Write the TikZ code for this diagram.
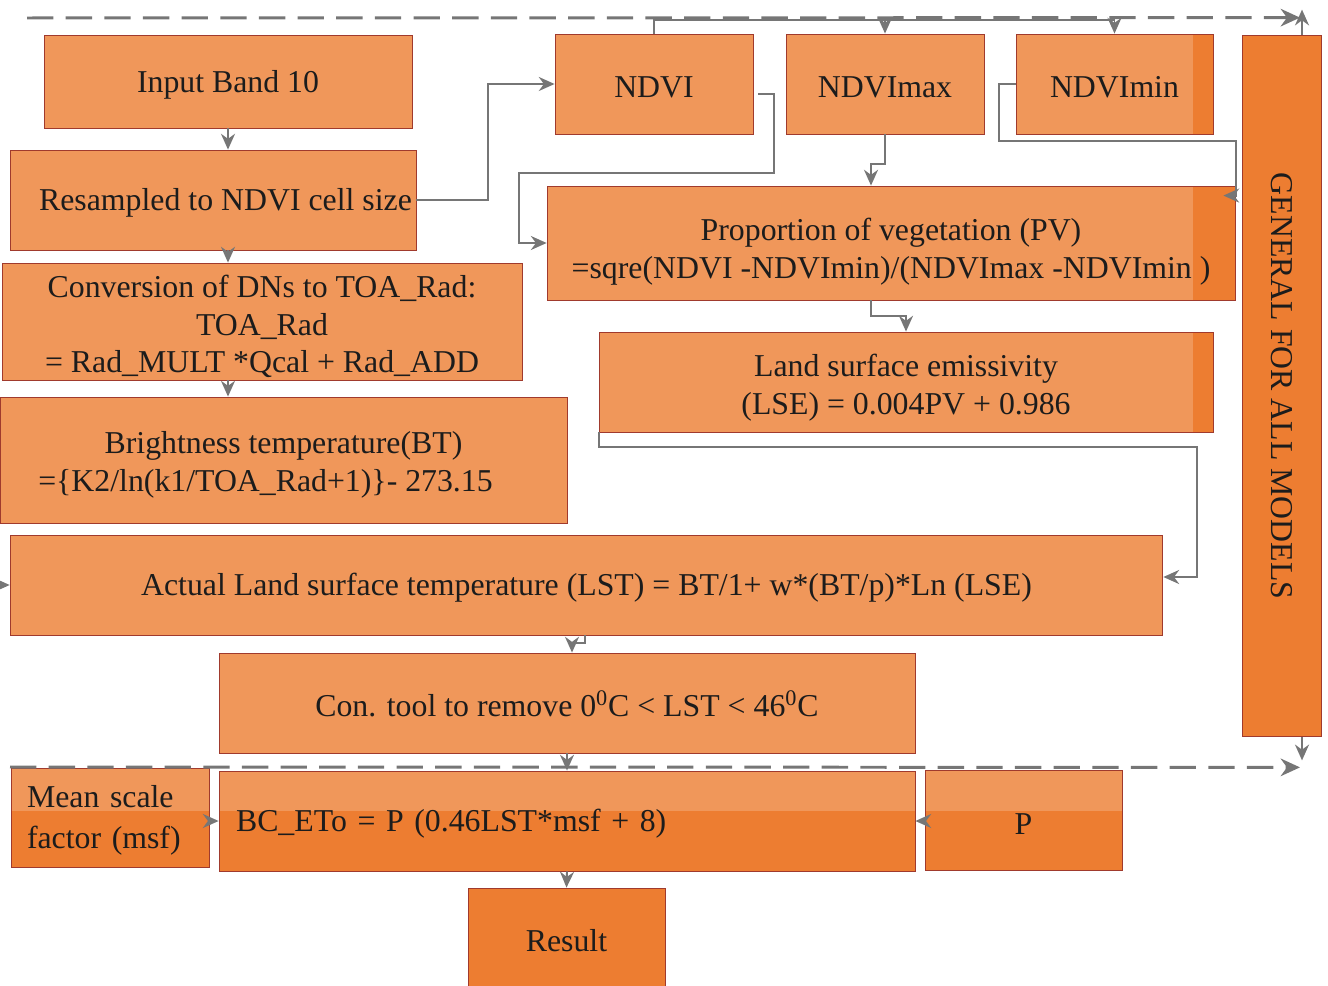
\documentclass[tikz,border=0pt]{standalone}
\usepackage{fontspec}
\setmainfont{Liberation Serif}
\usepackage{graphicx}
\usepackage{tikz}
\usetikzlibrary{arrows.meta, calc}
\definecolor{boxorange}{RGB}{237,125,49}
\definecolor{boxedge}{RGB}{160,58,45}
\definecolor{linegray}{RGB}{118,118,118}
\definecolor{textdark}{RGB}{28,28,28}
\newcommand{\firstlift}[1]{\rule{0pt}{#1}}
\tikzset{
  boxbase/.style={
    rectangle, draw=boxedge, line width=0.5pt, fill=boxorange,
    inner sep=0pt, align=center, text=textdark,
    font=\fontsize{18.1}{21.5}\selectfont,
    path picture={\fill[white, fill opacity=0.2] (wmA) rectangle (wmB);}
  },
  box/.style={boxbase, execute at begin node={\rule{0pt}{16pt}}},
  flow/.style={draw=linegray, line width=1.1pt, -{Stealth[length=9pt, width=8pt]}},
  model/.style={draw=linegray, line width=1.7pt, dash pattern=on 15pt off 7pt,
    -{Stealth[length=11pt, width=10pt]}},
}

\begin{document}
\begin{tikzpicture}[x=0.02cm, y=-0.02cm, >=Stealth]
  \useasboundingbox (0,0) rectangle (1328,986);
  % area behind the logo, boxes are lighter there
  \coordinate (wmA) at (0,0);
  \coordinate (wmB) at (1193,811);

  % Left column
  \node[box, minimum width=7.36cm, minimum height=1.86cm] (band) at (228,81.5) {Input Band 10};
  \node[box, minimum width=8.12cm, minimum height=2cm] (resamp) at (213,200) {\hspace*{0.5cm}Resampled to NDVI cell size};
  \node[boxbase, minimum width=10.4cm, minimum height=2.34cm] (conv) at (262,321.5)
    {\firstlift{18.5pt}Conversion of DNs to TOA\_Rad:\\TOA\_Rad\\= Rad\_MULT *Qcal + Rad\_ADD};
  \node[boxbase, minimum width=11.34cm, minimum height=2.52cm] (bright) at (283.5,460)
    {\firstlift{18.5pt}Brightness temperature(BT)\\=\{K2/ln(k1/TOA\_Rad+1)\}- 273.15\hspace*{0.72cm}};

  % NDVI inputs
  \node[box, minimum width=3.96cm, minimum height=2cm] (ndvi) at (654,84) {NDVI};
  \node[box, minimum width=3.96cm, minimum height=2cm] (nmax) at (885,84) {NDVImax};
  \node[box, minimum width=3.94cm, minimum height=2cm] (nmin) at (1114.5,84) {NDVImin};
  \node[boxbase, minimum width=13.76cm, minimum height=2.28cm] (pv) at (891,243)
    {\firstlift{22.5pt}Proportion of vegetation (PV)\\=sqre(NDVI -NDVImin)/(NDVImax -NDVImin )};
  \node[boxbase, minimum width=12.28cm, minimum height=2cm] (lse) at (906,382)
    {\firstlift{19pt}Land surface emissivity\\(LSE) = 0.004PV + 0.986};

  % LST and clipping
  \node[box, minimum width=23.06cm, minimum height=2cm] (lst) at (586.5,585)
    {Actual Land surface temperature (LST) = BT/1+ w*(BT/p)*Ln (LSE)};
  \node[box, minimum width=13.92cm, minimum height=2cm] (contool) at (567,703)
    {Con. tool to remove 0\textsuperscript{0}C < LST < 46\textsuperscript{0}C};

  % Model row
  \node[box, minimum width=3.96cm, minimum height=1.98cm, inner xsep=0.32cm,
    text width=3.32cm, align=left, font=\fontsize{18.1}{23.5}\selectfont] (msf) at (110,817.5)
    {Mean scale\\factor (msf)};
  \node[box, minimum width=13.92cm, minimum height=2cm, inner xsep=0.34cm,
    text width=13.24cm, align=left] (bceto) at (567,821) {BC\_ETo = P (0.46LST*msf + 8)};
  \node[box, minimum width=3.94cm, minimum height=2cm] (pbox) at (1023.5,820) {P};
  \node[box, minimum width=3.94cm, minimum height=2cm] (result) at (566.5,938) {Result};

  % Side bar
  \node[boxbase, minimum width=1.58cm, minimum height=14.04cm] (general) at (1281.5,386)
    {\rotatebox{-90}{GENERAL FOR ALL MODELS}};

  % Connectors
  \draw[flow] (band.south) -- (band.south |- resamp.north);
  \draw[flow] (resamp.south -| band.south) -- (band.south |- conv.north);
  \draw[flow] (conv.south -| band.south) -- (band.south |- bright.north);
  \coordinate (lstin) at (0,585);
  \draw[flow] (lstin) -- (lst.west);
  \draw[flow] (resamp.east) -- ++(72,0) |- (ndvi.west);
  \draw[flow] ($(ndvi.east)+(5,10)$) -| ++(16,79) -| ($(pv.west)+(-28,0)$) -- (pv.west);
  \draw[flow] (ndvi.north) |- ($(nmin.north)+(0,-14)$) -- (nmin.north);
  \draw[flow] ($(nmax.north)+(0,-14)$) -- (nmax.north);
  \draw[flow] (nmax.south) -- ++(0,30) -| ($(pv.north)+(-20,0)$);
  \draw[flow] (nmin.west) -| ++(-17,57) -| ($(pv.north east)+(1,10)$) -- ($(pv.north east)+(-12,10)$);
  \draw[flow] ($(pv.south)+(-20,0)$) -- ++(0,16) -| (lse.north);
  \draw[flow] (lse.south west) -- ++(0,15) -| ($(lst.east)+(34,-8)$) -- ($(lst.east)+(0,-8)$);
  \draw[flow] ($(lst.south)+(-1.5,0)$) -- ++(0,8) -| ($(contool.north)+(5,0)$);
  \draw[flow] (contool.south) -- (bceto.north);
  \draw[flow] (msf.east |- bceto.west) -- (bceto.west);
  \draw[flow] (pbox.west |- bceto.east) -- (bceto.east);
  \draw[flow] (bceto.south) -- (result.north);

  % Dashed model lines
  \coordinate (topL) at (27,18);
  \coordinate (botL) at (10,767);
  \draw[model] (topL) -- ($(general.north)+(18.5,-17)$);
  \draw[model] (botL) -- ($(general.south)+(18.5,30)$);
  \draw[flow] ($(general.north)+(20.5,0)$) -- ++(0,-25);
  \draw[flow] ($(general.south)+(20.5,0)$) -- ++(0,23);
\end{tikzpicture}
\end{document}
